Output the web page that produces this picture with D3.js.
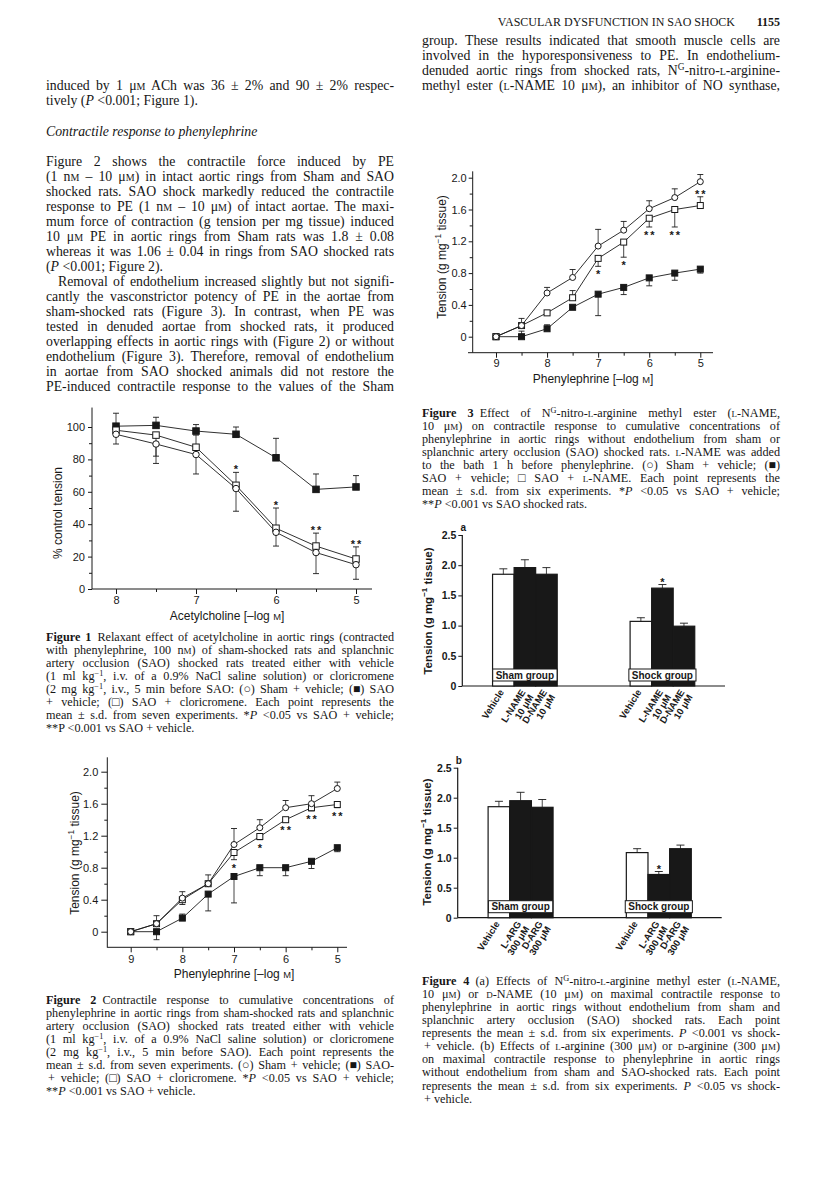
<!DOCTYPE html>
<html>
<head>
<meta charset="utf-8">
<title>Vascular dysfunction in SAO shock 1155</title>
<script src="https://cdn.jsdelivr.net/npm/d3@7"></script>
<style>
  body { margin: 0; background: #fff; }
  #page { position: relative; width: 816px; height: 1186px; overflow: hidden; background: #fff;
          color: #161616; font-family: "Liberation Serif", "DejaVu Serif", serif; }
  #chart { position: absolute; left: 0; top: 0; }
  .ln { position: absolute; white-space: nowrap; }
  .sc { font-variant: small-caps; }
  sup { font-size: 68%; line-height: 0; vertical-align: 0.5em; }
</style>
</head>
<body>
<div id="page"><svg id="chart" width="816" height="1186"></svg></div>
<script>
// ---- Figure 1: acetylcholine, % control tension
var f1Dose = [8, 7.5, 7, 6.5, 6, 5.5, 5];
var f1Sham = [95.5, 89.5, 83, 62, 35, 22.5, 15];
var f1ShamLo = [6, 12, 12, 14, 8.5, 13, 9];
var f1Sao = [100.5, 101, 97.5, 95.5, 81, 61.5, 63];
var f1SaoHi = [8, 5, 4, 4.5, 12, 9.5, 7];
var f1Clo = [98, 95, 87.5, 64, 37.5, 26.5, 18.5];
var f1CloHi = [0, 0, 7.5, 8, 12.5, 8, 7.5];
var f1CloLo = [0, 13, 0, 0, 0, 0, 0];
var f1Stars = ["", "", "", "*", "*", "**", "**"];
var f1YTicks = [0, 20, 40, 60, 80, 100];

// ---- Figure 2: phenylephrine, intact rings
var peDose = [9, 8.5, 8, 7.5, 7, 6.5, 6, 5.5, 5];
var f2Sham = [0, 0.1, 0.42, 0.6, 1.09, 1.30, 1.55, 1.60, 1.79];
var f2ShamHi = [0, 0.1, 0.08, 0.11, 0.2, 0.1, 0.09, 0.1, 0.08];
var f2Sao = [0, 0, 0.17, 0.47, 0.69, 0.80, 0.80, 0.88, 1.05];
var f2SaoHi = [0, 0, 0.05, 0, 0, 0, 0, 0, 0];
var f2SaoLo = [0, 0.1, 0, 0.21, 0.33, 0.1, 0.1, 0.09, 0.05];
var f2Clo = [0, 0.1, 0.40, 0.6, 0.99, 1.19, 1.40, 1.55, 1.59];
var f2CloLo = [0, 0, 0.06, 0, 0.09, 0.04, 0.03, 0.04, 0.04];
var f2Stars = ["", "", "", "", "*", "*", "**", "**", "**"];

// ---- Figure 3: phenylephrine, denuded rings + L-NAME
var f3Sham = [0, 0.14, 0.55, 0.745, 1.14, 1.34, 1.61, 1.75, 1.95];
var f3ShamHi = [0, 0, 0.07, 0.1, 0.21, 0.11, 0.1, 0.11, 0.09];
var f3Sao = [0, 0, 0.10, 0.37, 0.535, 0.62, 0.74, 0.80, 0.85];
var f3SaoHi = [0, 0.07, 0.05, 0, 0, 0, 0, 0, 0];
var f3SaoLo = [0, 0, 0, 0, 0.27, 0.09, 0.1, 0.09, 0.05];
var f3Lname = [0, 0.14, 0.30, 0.49, 0.985, 1.19, 1.49, 1.60, 1.65];
var f3LnameHi = [0, 0.09, 0, 0.09, 0, 0, 0, 0, 0.11];
var f3LnameLo = [0, 0, 0, 0, 0.1, 0.19, 0.11, 0.22, 0];
var f3Stars = ["", "", "", "", "*", "*", "**", "**", "**"];
var peYTicks = [0, 0.4, 0.8, 1.2, 1.6, 2.0];
var peYMinor = [0.2, 0.6, 1.0, 1.4, 1.8];
var peXTicks = [9, 8, 7, 6, 5];
var peXMinor = [8.5, 7.5, 6.5, 5.5];

// ---- Figure 4: maximal contraction, bars
var f4Groups = ["Sham group", "Shock group"];
var f4Ticks = [0, 0.5, 1, 1.5, 2, 2.5];
var f4aLabels = [["Vehicle"], ["L-NAME", "10 μM"], ["D-NAME", "10 μM"]];
var f4aSham = [1.85, 1.96, 1.85];
var f4aShamErr = [0.09, 0.13, 0.11];
var f4aShock = [1.07, 1.62, 0.99];
var f4aShockErr = [0.06, 0.06, 0.05];
var f4aStars = [["", "", ""], ["", "*", ""]];
var f4bLabels = [["Vehicle"], ["L-ARG", "300 μM"], ["D-ARG", "300 μM"]];
var f4bSham = [1.85, 1.95, 1.84];
var f4bShamErr = [0.09, 0.14, 0.13];
var f4bShock = [1.085, 0.72, 1.15];
var f4bShockErr = [0.065, 0.05, 0.06];
var f4bStars = [["", "", ""], ["", "*", ""]];

var ink = "#181818";
var sans = "'Liberation Sans', Arial, Helvetica, sans-serif";
var svg = d3.select("#chart");

function errBar(g, cx, yv, ye, cap) {
  g.append("line").attr("x1", cx).attr("x2", cx).attr("y1", yv).attr("y2", ye)
    .attr("stroke", ink).attr("stroke-width", 0.8);
  g.append("line").attr("x1", cx - cap).attr("x2", cx + cap).attr("y1", ye).attr("y2", ye)
    .attr("stroke", ink).attr("stroke-width", 0.9);
}

function marker(g, cx, cy, shape, s) {
  if (shape == "circle") {
    g.append("circle").attr("cx", cx).attr("cy", cy).attr("r", s / 2)
      .attr("fill", "#fff").attr("stroke", ink).attr("stroke-width", 1);
  } else {
    g.append("rect").attr("x", cx - s / 2).attr("y", cy - s / 2).attr("width", s).attr("height", s)
      .attr("fill", shape == "filled" ? ink : "#fff").attr("stroke", ink).attr("stroke-width", 1);
  }
}

function styleAxis(a, fs, bold) {
  a.attr("font-family", sans).attr("font-size", fs).attr("font-weight", bold ? "bold" : "normal");
  a.selectAll(".tick line").attr("stroke", ink);
  a.selectAll(".tick text").attr("fill", ink);
  a.select(".domain").remove();
}

// parts: [text, kind] with kind "", "sup" or "sc"
function label(g, tx, ty, rot, parts, fs, bold) {
  var t = g.append("text").attr("transform", "translate(" + tx + "," + ty + ") rotate(" + rot + ")")
    .attr("text-anchor", "middle").attr("font-family", sans).attr("font-size", fs)
    .attr("font-weight", bold ? "bold" : "normal").attr("fill", ink);
  var lift = 0;
  parts.forEach(function (p) {
    var sp = t.append("tspan").text(p[0]);
    var up = p[1] == "sup" ? -fs * 0.4 : 0;
    if (up != lift) sp.attr("dy", up - lift);
    lift = up;
    if (p[1] == "sup") sp.attr("font-size", fs * 0.7);
    if (p[1] == "sc") sp.attr("font-size", fs * 0.78);
  });
}

function yFmt(d) { return d == 0 ? "0" : d3.format(".1f")(d); }

function lineChart(o) {
  var g = svg.append("g");
  var x = d3.scaleLinear().domain(o.xDomain).range(o.xRange);
  var y = d3.scaleLinear().domain(o.yDomain).range(o.yRange);

  var ya = g.append("g").attr("transform", "translate(" + o.axisX + ",0)")
    .call(d3.axisLeft(y).tickValues(o.yTicks).tickFormat(o.yFmt).tickSize(o.yTick).tickPadding(o.yPad));
  styleAxis(ya, 11);
  var ym = g.append("g").attr("transform", "translate(" + o.axisX + ",0)")
    .call(d3.axisLeft(y).tickValues(o.yMinor).tickFormat("").tickSize(3));
  styleAxis(ym, 11);
  g.append("line").attr("x1", o.axisX).attr("x2", o.axisX)
    .attr("y1", y(o.yLow)).attr("y2", y(o.yTop)).attr("stroke", ink).attr("stroke-width", 1);

  var xa = g.append("g").attr("transform", "translate(0," + o.axisY + ")")
    .call(d3.axisBottom(x).tickValues(o.xTicks).tickFormat(d3.format("d")).tickSize(5).tickPadding(o.xPad));
  styleAxis(xa, 11);
  var xm = g.append("g").attr("transform", "translate(0," + o.axisY + ")")
    .call(d3.axisBottom(x).tickValues(o.xMinor).tickFormat("").tickSize(3));
  styleAxis(xm, 11);
  g.append("line").attr("x1", o.xFrom).attr("x2", o.xTo)
    .attr("y1", o.axisY).attr("y2", o.axisY).attr("stroke", ink).attr("stroke-width", 1);

  var line = d3.line().x(function (d) { return x(d[0]); }).y(function (d) { return y(d[1]); });
  o.series.forEach(function (s) {
    g.append("path").attr("d", line(d3.zip(o.dose, s.vals)))
      .attr("fill", "none").attr("stroke", ink).attr("stroke-width", 0.9);
  });
  o.series.forEach(function (s) {
    s.vals.forEach(function (v, i) {
      if (s.hi && s.hi[i] > 0) errBar(g, x(o.dose[i]), y(v), y(v + s.hi[i]), 3);
      if (s.lo && s.lo[i] > 0) errBar(g, x(o.dose[i]), y(v), y(v - s.lo[i]), 3);
    });
  });
  o.series.forEach(function (s) {
    s.vals.forEach(function (v, i) { marker(g, x(o.dose[i]), y(v), s.shape, o.ms); });
  });

  // significance marks sit next to the error bar of the treated series
  var r = o.series[o.starOf];
  o.stars.forEach(function (st, i) {
    if (!st) return;
    var above = r.hi && r.hi[i] > 0;
    var ty = above ? y(r.vals[i] + r.hi[i]) + 1 : y(r.vals[i] - (r.lo ? r.lo[i] : 0)) + 12;
    g.append("text").attr("x", x(o.dose[i]) + (st.length > 1 ? 1 : 0)).attr("y", ty)
      .attr("text-anchor", "middle").attr("font-family", sans).attr("font-size", 11)
      .attr("font-weight", "bold").attr("fill", ink)
      .attr("letter-spacing", st.length > 1 ? 2 : 0).text(st);
  });

  label(g, o.yTitle[0], o.yTitle[1], -90, o.yTitle[2], 12);
  label(g, o.xTitle[0], o.xTitle[1], 0, o.xTitle[2], 12);
}

function barChart(o) {
  var g = svg.append("g");
  var x0 = d3.scaleBand().domain(f4Groups).range([o.axisX, o.xTo]).paddingInner(0.53).paddingOuter(0.22);
  var x1 = d3.scaleBand().domain(d3.range(3)).range([0, x0.bandwidth()]);
  var y = d3.scaleLinear().domain([0, 2.5]).range(o.yRange);

  var ya = g.append("g").attr("transform", "translate(" + o.axisX + ",0)")
    .call(d3.axisLeft(y).tickValues(f4Ticks).tickFormat(yFmt).tickSize(4).tickPadding(2));
  styleAxis(ya, 10.5, true);
  g.append("line").attr("x1", o.axisX).attr("x2", o.axisX).attr("y1", y(0)).attr("y2", y(2.5))
    .attr("stroke", ink).attr("stroke-width", 1.2);
  g.append("line").attr("x1", o.axisX).attr("x2", o.xTo).attr("y1", y(0)).attr("y2", y(0))
    .attr("stroke", ink).attr("stroke-width", 1.2);

  f4Groups.forEach(function (grp, gi) {
    var vals = o.vals[gi], errs = o.errs[gi];
    vals.forEach(function (v, i) {
      var bx = x0(grp) + x1(i), cx = bx + x1.bandwidth() / 2;
      g.append("rect").attr("x", bx).attr("y", y(v)).attr("width", x1.bandwidth()).attr("height", y(0) - y(v))
        .attr("fill", i == 0 ? "#fff" : ink).attr("stroke", ink).attr("stroke-width", 1.2);
      errBar(g, cx, y(v), y(v + errs[i]), 4);
      if (o.stars[gi][i]) {
        g.append("text").attr("x", cx).attr("y", y(v + errs[i]) + 1).attr("text-anchor", "middle")
          .attr("font-family", sans).attr("font-size", 11).attr("font-weight", "bold").attr("fill", ink)
          .text(o.stars[gi][i]);
      }
      var t = g.append("text")
        .attr("transform", "translate(" + (cx + 1) + "," + (y(0) + 6) + ") rotate(-58)")
        .attr("text-anchor", "end").attr("font-family", sans).attr("font-size", 9.5)
        .attr("font-weight", "bold").attr("fill", ink);
      o.labels[i].forEach(function (s, k) {
        t.append("tspan").attr("x", 0).attr("dy", k ? "1.0em" : 0).text(s);
      });
    });
    // group tag inside the bars
    var gc = x0(grp) + x0.bandwidth() / 2;
    var tb = g.append("text").attr("x", gc).attr("y", y(0) - 7.5).attr("text-anchor", "middle")
      .attr("font-family", sans).attr("font-size", 10).attr("font-weight", "bold").attr("fill", ink).text(grp);
    var w = tb.node().getComputedTextLength();
    g.insert("rect", function () { return tb.node(); })
      .attr("x", gc - w / 2 - 3).attr("y", y(0) - 17).attr("width", w + 6).attr("height", 12)
      .attr("fill", "#fff").attr("stroke", ink).attr("stroke-width", 1);
  });

  g.append("text").attr("x", o.axisX + 1).attr("y", y(2.5) - 4).attr("text-anchor", "middle")
    .attr("font-family", sans).attr("font-size", 10).attr("font-weight", "bold").attr("fill", ink).text(o.tag);
  label(g, o.yTitle[0], o.yTitle[1], -90, [["Tension (g mg", ""], ["−1", "sup"], [" tissue)", ""]], 11.5, true);
}

var peTitle = [["Phenylephrine [–log ", ""], ["M", "sc"], ["]", ""]];
var tensionTitle = [["Tension (g mg", ""], ["−1", "sup"], [" tissue)", ""]];

lineChart({
  xDomain: [8, 5], xRange: [116, 356], yDomain: [0, 100], yRange: [589, 427],
  axisX: 92, axisY: 589, xFrom: 92, xTo: 372, yLow: 0, yTop: 112,
  yTicks: f1YTicks, yMinor: [10, 30, 50, 70, 90], yFmt: d3.format("d"), yTick: 4, yPad: 3,
  xTicks: [8, 7, 6, 5], xMinor: [7.5, 6.5, 5.5], xPad: 2, ms: 6.5,
  dose: f1Dose,
  series: [
    { vals: f1Sao, hi: f1SaoHi, shape: "filled" },
    { vals: f1Clo, hi: f1CloHi, lo: f1CloLo, shape: "open" },
    { vals: f1Sham, lo: f1ShamLo, shape: "circle" }
  ],
  stars: f1Stars, starOf: 1,
  yTitle: [62, 513, [["% control tension", ""]]],
  xTitle: [227, 620, [["Acetylcholine [–log ", ""], ["M", "sc"], ["]", ""]]]
});

lineChart({
  xDomain: [9, 5], xRange: [130.7, 337.3], yDomain: [0, 2], yRange: [931.7, 771.7],
  axisX: 107.3, axisY: 947.3, xFrom: 107.3, xTo: 347, yLow: -0.2, yTop: 2.18,
  yTicks: peYTicks, yMinor: peYMinor, yFmt: yFmt, yTick: 6, yPad: 3,
  xTicks: peXTicks, xMinor: peXMinor, xPad: 3, ms: 6,
  dose: peDose,
  series: [
    { vals: f2Sao, hi: f2SaoHi, lo: f2SaoLo, shape: "filled" },
    { vals: f2Clo, lo: f2CloLo, shape: "open" },
    { vals: f2Sham, hi: f2ShamHi, shape: "circle" }
  ],
  stars: f2Stars, starOf: 1,
  yTitle: [79, 853, tensionTitle],
  xTitle: [234, 977.5, peTitle]
});

lineChart({
  xDomain: [9, 5], xRange: [496, 700.3], yDomain: [0, 2], yRange: [336.7, 177.7],
  axisX: 472.7, axisY: 352.7, xFrom: 468, xTo: 713, yLow: -0.2, yTop: 2.08,
  yTicks: peYTicks, yMinor: peYMinor, yFmt: yFmt, yTick: 4, yPad: 2,
  xTicks: peXTicks, xMinor: peXMinor, xPad: 2, ms: 6,
  dose: peDose,
  series: [
    { vals: f3Sao, hi: f3SaoHi, lo: f3SaoLo, shape: "filled" },
    { vals: f3Lname, hi: f3LnameHi, lo: f3LnameLo, shape: "open" },
    { vals: f3Sham, hi: f3ShamHi, shape: "circle" }
  ],
  stars: f3Stars, starOf: 1,
  yTitle: [446, 257, tensionTitle],
  xTitle: [593, 382.5, peTitle]
});

barChart({
  axisX: 462.3, xTo: 725, yRange: [686, 535], tag: "a",
  vals: [f4aSham, f4aShock], errs: [f4aShamErr, f4aShockErr], stars: f4aStars, labels: f4aLabels,
  yTitle: [432, 611]
});

barChart({
  axisX: 457.7, xTo: 721.7, yRange: [917.7, 767.7], tag: "b",
  vals: [f4bSham, f4bShock], errs: [f4bShamErr, f4bShockErr], stars: f4bStars, labels: f4bLabels,
  yTitle: [431, 842]
});

// ---- running text
var M = '<span class="sc">m</span>';
var L = '<span class="sc">l</span>';
var D = '<span class="sc">d</span>';
var page = document.getElementById("page");

function textBlock(lines, x, base, w, lh, fs) {
  lines.forEach(function (ln, i) {
    var d = document.createElement("div");
    d.className = "ln";
    d.style.fontSize = fs + "px";
    d.style.lineHeight = fs + "px";
    d.style.left = (x + (ln.ind || 0)) + "px";
    d.style.top = (base + i * lh - 0.8375 * fs) + "px";
    d.innerHTML = "<span>" + ln.t + "</span>";
    page.appendChild(d);
    var sp = d.firstChild;
    var nat = sp.getBoundingClientRect().width;
    var room = w - (ln.ind || 0) - nat;
    if (room < 0) {
      // squeeze lines that are a little too long for the column
      d.style.letterSpacing = (room / sp.textContent.length) + "px";
    } else if (ln.j) {
      var n = (sp.textContent.match(/ /g) || []).length;
      if (n) d.style.wordSpacing = (room / n) + "px";
    }
  });
}

function rightText(html, right, base, fs, bold) {
  var d = document.createElement("div");
  d.className = "ln";
  d.style.fontSize = fs + "px";
  d.style.lineHeight = fs + "px";
  d.style.top = (base - 0.8375 * fs) + "px";
  if (bold) d.style.fontWeight = "bold";
  d.innerHTML = html;
  page.appendChild(d);
  d.style.left = (right - d.getBoundingClientRect().width) + "px";
}

rightText("VASCULAR DYSFUNCTION IN SAO SHOCK", 735, 26, 12);
rightText("1155", 780, 26, 12, true);

var BODY = 13.8, CAP = 12.2, LEFT = 46, RIGHT = 422, LW = 348, RW = 358;

textBlock([
  { t: "induced by 1 μ" + M + " ACh was 36 ± 2% and 90 ± 2% respec-", j: 1 },
  { t: "tively (<i>P</i> &lt;0.001; Figure 1)." }
], LEFT, 91, LW, 15, BODY);
textBlock([{ t: "<i>Contractile response to phenylephrine</i>" }], LEFT, 137, LW, 15, BODY);
textBlock([
  { t: "Figure 2 shows the contractile force induced by PE", j: 1 },
  { t: "(1 n" + M + " – 10 μ" + M + ") in intact aortic rings from Sham and SAO", j: 1 },
  { t: "shocked rats. SAO shock markedly reduced the contractile", j: 1 },
  { t: "response to PE (1 n" + M + " – 10 μ" + M + ") of intact aortae. The maxi-", j: 1 },
  { t: "mum force of contraction (g tension per mg tissue) induced", j: 1 },
  { t: "10 μ" + M + " PE in aortic rings from Sham rats was 1.8 ± 0.08", j: 1 },
  { t: "whereas it was 1.06 ± 0.04 in rings from SAO shocked rats", j: 1 },
  { t: "(<i>P</i> &lt;0.001; Figure 2)." },
  { t: "Removal of endothelium increased slightly but not signifi-", j: 1, ind: 12 },
  { t: "cantly the vasconstrictor potency of PE in the aortae from", j: 1 },
  { t: "sham-shocked rats (Figure 3). In contrast, when PE was", j: 1 },
  { t: "tested in denuded aortae from shocked rats, it produced", j: 1 },
  { t: "overlapping effects in aortic rings with (Figure 2) or without", j: 1 },
  { t: "endothelium (Figure 3). Therefore, removal of endothelium", j: 1 },
  { t: "in aortae from SAO shocked animals did not restore the", j: 1 },
  { t: "PE-induced contractile response to the values of the Sham", j: 1 }
], LEFT, 167, LW, 15, BODY);

textBlock([
  { t: "group. These results indicated that smooth muscle cells are", j: 1 },
  { t: "involved in the hyporesponsiveness to PE. In endothelium-", j: 1 },
  { t: "denuded aortic rings from shocked rats, N<sup>G</sup>-nitro-" + L + "-arginine-", j: 1 },
  { t: "methyl ester (" + L + "-NAME 10 μ" + M + "), an inhibitor of NO synthase,", j: 1 }
], RIGHT, 46, RW, 15, BODY);

textBlock([
  { t: "<b>Figure 1</b>&ensp;Relaxant effect of acetylcholine in aortic rings (contracted", j: 1 },
  { t: "with phenylephrine, 100 n" + M + ") of sham-shocked rats and splanchnic", j: 1 },
  { t: "artery occlusion (SAO) shocked rats treated either with vehicle", j: 1 },
  { t: "(1 ml kg<sup>−1</sup>, i.v. of a 0.9% NaCl saline solution) or cloricromene", j: 1 },
  { t: "(2 mg kg<sup>−1</sup>, i.v., 5 min before SAO: (○) Sham + vehicle; (■) SAO", j: 1 },
  { t: "+ vehicle; (□) SAO + cloricromene. Each point represents the", j: 1 },
  { t: "mean ± s.d. from seven experiments. *<i>P</i> &lt;0.05 vs SAO + vehicle;", j: 1 },
  { t: "**P &lt;0.001 vs SAO + vehicle." }
], LEFT, 641, LW, 13.1, CAP);

textBlock([
  { t: "<b>Figure 2</b>&ensp;Contractile response to cumulative concentrations of", j: 1 },
  { t: "phenylephrine in aortic rings from sham-shocked rats and splanchnic", j: 1 },
  { t: "artery occlusion (SAO) shocked rats treated either with vehicle", j: 1 },
  { t: "(1 ml kg<sup>−1</sup>, i.v. of a 0.9% NaCl saline solution) or cloricromene", j: 1 },
  { t: "(2 mg kg<sup>−1</sup>, i.v., 5 min before SAO). Each point represents the", j: 1 },
  { t: "mean ± s.d. from seven experiments. (○) Sham + vehicle; (■) SAO-", j: 1 },
  { t: "+ vehicle; (□) SAO + cloricromene. *<i>P</i> &lt;0.05 vs SAO + vehicle;", j: 1, ind: 2 },
  { t: "**<i>P</i> &lt;0.001 vs SAO + vehicle." }
], LEFT, 1004, LW, 13.1, CAP);

textBlock([
  { t: "<b>Figure 3</b>&ensp;Effect of N<sup>G</sup>-nitro-" + L + "-arginine methyl ester (" + L + "-NAME,", j: 1 },
  { t: "10 μ" + M + ") on contractile response to cumulative concentrations of", j: 1 },
  { t: "phenylephrine in aortic rings without endothelium from sham or", j: 1 },
  { t: "splanchnic artery occlusion (SAO) shocked rats. " + L + "-NAME was added", j: 1 },
  { t: "to the bath 1 h before phenylephrine. (○) Sham + vehicle; (■)", j: 1 },
  { t: "SAO + vehicle; □ SAO + " + L + "-NAME. Each point represents the", j: 1 },
  { t: "mean ± s.d. from six experiments. *<i>P</i> &lt;0.05 vs SAO + vehicle;", j: 1 },
  { t: "**<i>P</i> &lt;0.001 vs SAO shocked rats." }
], RIGHT, 417, RW, 13.1, CAP);

textBlock([
  { t: "<b>Figure 4</b>&ensp;(a) Effects of N<sup>G</sup>-nitro-" + L + "-arginine methyl ester (" + L + "-NAME,", j: 1 },
  { t: "10 μ" + M + ") or " + D + "-NAME (10 μ" + M + ") on maximal contractile response to", j: 1 },
  { t: "phenylephrine in aortic rings without endothelium from sham and", j: 1 },
  { t: "splanchnic artery occlusion (SAO) shocked rats. Each point", j: 1 },
  { t: "represents the mean ± s.d. from six experiments. <i>P</i> &lt;0.001 vs shock-", j: 1 },
  { t: "+ vehicle. (b) Effects of " + L + "-arginine (300 μ" + M + ") or " + D + "-arginine (300 μ" + M + ")", j: 1, ind: 2 },
  { t: "on maximal contractile response to phenylephrine in aortic rings", j: 1 },
  { t: "without endothelium from sham and SAO-shocked rats. Each point", j: 1 },
  { t: "represents the mean ± s.d. from six experiments. <i>P</i> &lt;0.05 vs shock-", j: 1 },
  { t: "+ vehicle.", ind: 2 }
], RIGHT, 985, RW, 13.1, CAP);
</script>
</body>
</html>
